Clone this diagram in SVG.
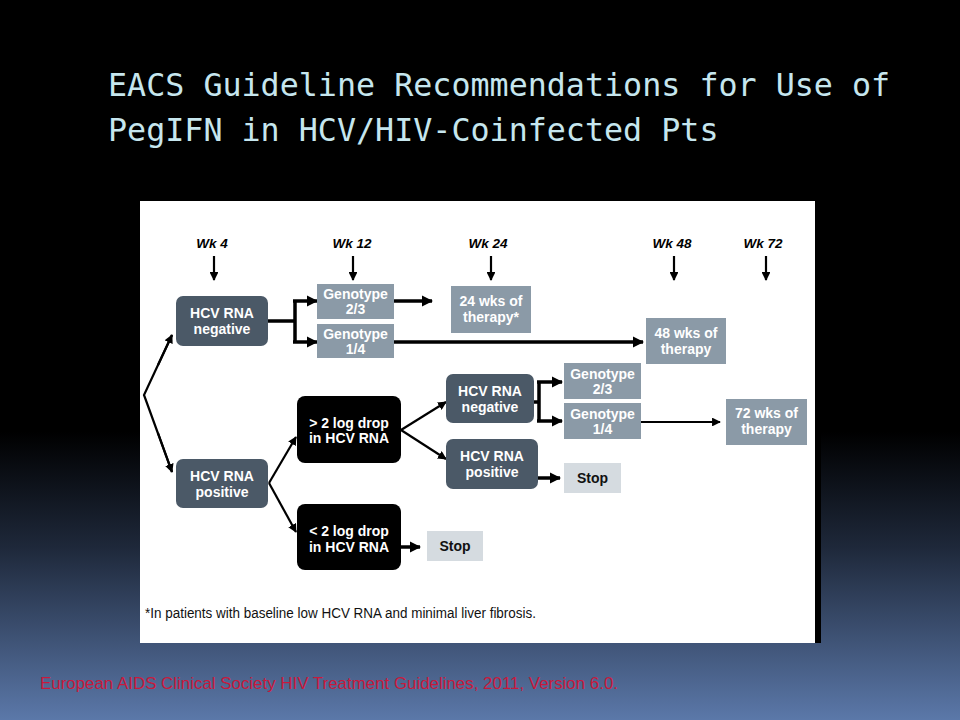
<svg xmlns="http://www.w3.org/2000/svg" width="960" height="720" viewBox="0 0 960 720">
<defs>
<linearGradient id="bg" x1="0" y1="0" x2="0" y2="1">
<stop offset="0" stop-color="#000000"/>
<stop offset="0.6" stop-color="#000000"/>
<stop offset="0.76" stop-color="#1e283a"/>
<stop offset="1" stop-color="#5b78a9"/>
</linearGradient>
<marker id="ah" viewBox="0 0 10 10" refX="9" refY="5" markerWidth="3.2" markerHeight="3.2" orient="auto" markerUnits="strokeWidth">
<path d="M0,0 L10,5 L0,10 z" fill="#000"/>
</marker>
<marker id="ah2" viewBox="0 0 10 10" refX="9" refY="5" markerWidth="4" markerHeight="4" orient="auto" markerUnits="strokeWidth">
<path d="M0,0 L10,5 L0,10 z" fill="#000"/>
</marker>
</defs>
<style>
.nd{fill:#4b5967}
.gy{fill:#8b9aa7}
.bk{fill:#000}
.st{fill:#d5dbe0}
.t{font-family:"Liberation Sans",Arial,sans-serif;font-weight:bold;font-size:14px;text-anchor:middle;fill:#ffffff}
.ts{font-family:"Liberation Sans",Arial,sans-serif;font-weight:bold;font-size:14px;text-anchor:middle;fill:#111}
.wk{font-family:"Liberation Sans",Arial,sans-serif;font-weight:bold;font-style:italic;font-size:13.5px;text-anchor:middle;fill:#000}
.c{fill:none;stroke:#000;stroke-width:3.5}
.c2{fill:none;stroke:#000;stroke-width:2.2}
</style>
<rect x="0" y="0" width="960" height="720" fill="url(#bg)"/>
<g id="title" font-family="'DejaVu Sans Mono','Liberation Mono',monospace" font-size="31.7" fill="#c6e6ee">
<text x="108" y="96">EACS Guideline Recommendations for Use of</text>
<text x="108" y="141">PegIFN in HCV/HIV-Coinfected Pts</text>
</g>
<rect x="815" y="201" width="6" height="442" fill="#000"/>
<rect x="140" y="201" width="675" height="442" fill="#ffffff"/>

<g id="weeks">
<text class="wk" x="212" y="248">Wk 4</text>
<text class="wk" x="352" y="248">Wk 12</text>
<text class="wk" x="488" y="248">Wk 24</text>
<text class="wk" x="672" y="248">Wk 48</text>
<text class="wk" x="763" y="248">Wk 72</text>
</g>

<g id="connectors">
<line class="c2" x1="214" y1="256" x2="214" y2="280" marker-end="url(#ah2)"/>
<line class="c2" x1="353" y1="256" x2="353" y2="280" marker-end="url(#ah2)"/>
<line class="c2" x1="491" y1="256" x2="491" y2="280" marker-end="url(#ah2)"/>
<line class="c2" x1="674" y1="256" x2="674" y2="280" marker-end="url(#ah2)"/>
<line class="c2" x1="766" y1="256" x2="766" y2="280" marker-end="url(#ah2)"/>
<polyline class="c2" points="172,335 144,395 172,472" stroke-width="2.4"/>
<line class="c2" x1="158" y1="365" x2="172" y2="335" stroke-width="2.4" marker-end="url(#ah2)"/>
<line class="c2" x1="158" y1="433" x2="172" y2="472" stroke-width="2.4" marker-end="url(#ah2)"/>
<path class="c" d="M268,321 H295 M295,301 V342"/>
<line class="c" x1="293" y1="301" x2="317" y2="301" marker-end="url(#ah)"/>
<line class="c" x1="293" y1="342" x2="317" y2="342" marker-end="url(#ah)"/>
<line class="c" x1="394" y1="301" x2="432" y2="301" marker-end="url(#ah)"/>
<line class="c" x1="394" y1="342" x2="643" y2="342" marker-end="url(#ah)"/>
<line class="c2" x1="269" y1="483" x2="296" y2="437" stroke-width="2.4" marker-end="url(#ah2)"/>
<line class="c2" x1="269" y1="483" x2="296" y2="532" stroke-width="2.4" marker-end="url(#ah2)"/>
<line class="c2" x1="401" y1="430" x2="446" y2="402" stroke-width="2.4" marker-end="url(#ah2)"/>
<line class="c2" x1="401" y1="430" x2="446" y2="459" stroke-width="2.4" marker-end="url(#ah2)"/>
<path class="c" d="M534,402 H539 M539,382 V421"/>
<line class="c" x1="537" y1="382" x2="562" y2="382" marker-end="url(#ah)"/>
<line class="c" x1="537" y1="421" x2="562" y2="421" marker-end="url(#ah)"/>
<line class="c2" x1="641" y1="422" x2="720" y2="422" marker-end="url(#ah2)"/>
<line class="c" x1="538" y1="478" x2="560" y2="478" marker-end="url(#ah)"/>
<line class="c" x1="401" y1="547" x2="420" y2="547" marker-end="url(#ah)"/>
</g>

<g id="n-neg1"><rect class="nd" x="176" y="296" width="92" height="50" rx="7"/><text class="t" x="222" y="318">HCV RNA</text><text class="t" x="222" y="334">negative</text></g>
<g id="n-g23a"><rect class="gy" x="317" y="284" width="77" height="35"/><text class="t" x="355.5" y="299">Genotype</text><text class="t" x="355.5" y="314">2/3</text></g>
<g id="n-g14a"><rect class="gy" x="317" y="324" width="77" height="34"/><text class="t" x="355.5" y="339">Genotype</text><text class="t" x="355.5" y="354">1/4</text></g>
<g id="n-24w"><rect class="gy" x="451" y="286" width="80" height="47"/><text class="t" x="491" y="306">24 wks of</text><text class="t" x="491" y="322">therapy*</text></g>
<g id="n-48w"><rect class="gy" x="646" y="318" width="80" height="46"/><text class="t" x="686" y="338">48 wks of</text><text class="t" x="686" y="354">therapy</text></g>
<g id="n-pos1"><rect class="nd" x="176" y="459" width="92" height="49" rx="7"/><text class="t" x="222" y="481">HCV RNA</text><text class="t" x="222" y="497">positive</text></g>
<g id="n-gt2"><rect class="bk" x="297" y="396" width="104" height="67" rx="8"/><text class="t" x="349" y="428">&gt; 2 log drop</text><text class="t" x="349" y="443">in HCV RNA</text></g>
<g id="n-lt2"><rect class="bk" x="297" y="504" width="104" height="66" rx="8"/><text class="t" x="349" y="536">&lt; 2 log drop</text><text class="t" x="349" y="552">in HCV RNA</text></g>
<g id="n-neg2"><rect class="nd" x="446" y="374" width="88" height="49" rx="7"/><text class="t" x="490" y="396">HCV RNA</text><text class="t" x="490" y="412">negative</text></g>
<g id="n-pos2"><rect class="nd" x="446" y="439" width="92" height="50" rx="7"/><text class="t" x="492" y="461">HCV RNA</text><text class="t" x="492" y="477">positive</text></g>
<g id="n-g23b"><rect class="gy" x="564" y="363" width="77" height="36"/><text class="t" x="602.5" y="379">Genotype</text><text class="t" x="602.5" y="394">2/3</text></g>
<g id="n-g14b"><rect class="gy" x="564" y="403" width="77" height="36"/><text class="t" x="602.5" y="419">Genotype</text><text class="t" x="602.5" y="434">1/4</text></g>
<g id="n-72w"><rect class="gy" x="726" y="399" width="81" height="46"/><text class="t" x="766.5" y="418">72 wks of</text><text class="t" x="766.5" y="434">therapy</text></g>
<g id="n-stop1"><rect class="st" x="564" y="463" width="57" height="30"/><text class="ts" x="592.5" y="483">Stop</text></g>
<g id="n-stop2"><rect class="st" x="427" y="531" width="56" height="30"/><text class="ts" x="455" y="551">Stop</text></g>

<text x="145" y="618" font-family="'Liberation Sans',Arial,sans-serif" font-size="14" fill="#111" textLength="391" lengthAdjust="spacingAndGlyphs">*In patients with baseline low HCV RNA and minimal liver fibrosis.</text>
<text x="40" y="689" font-family="'Liberation Sans',Arial,sans-serif" font-size="17" fill="#c8193c" textLength="578" lengthAdjust="spacingAndGlyphs">European AIDS Clinical Society HIV Treatment Guidelines, 2011, Version 6.0.</text>
</svg>
